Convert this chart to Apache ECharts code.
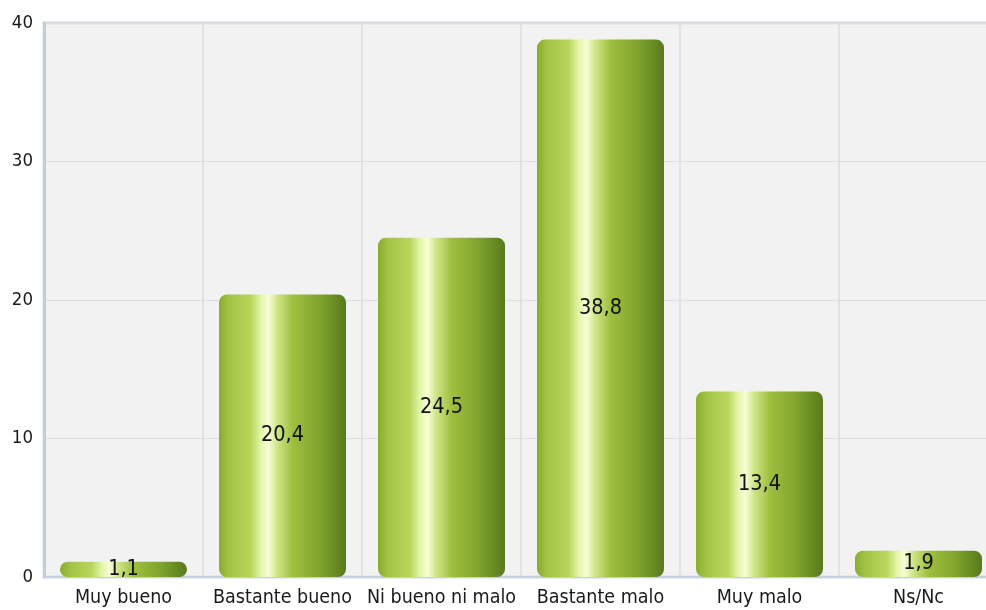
<!DOCTYPE html>
<html><head><meta charset="utf-8">
<script src="https://cdn.jsdelivr.net/npm/echarts@6/dist/echarts.min.js"></script>
<style>html,body{margin:0;padding:0;background:#fff}#c{width:986px;height:610px}</style>
</head><body><div id="c"></div>
<script>
const categories = ['Muy bueno','Bastante bueno','Ni bueno ni malo','Bastante malo','Muy malo','Ns/Nc'];
const values = [1.1, 20.4, 24.5, 38.8, 13.4, 1.9];
const yTicks = [0, 10, 20, 30, 40];

const FONT = '"DejaVu Sans Condensed", "DejaVu Sans", sans-serif';
const chart = echarts.init(document.getElementById('c'));
const barGrad = new echarts.graphic.LinearGradient(0,0,1,0,[
  {offset:0, color:'#8aab30'},
  {offset:0.08, color:'#a3c345'},
  {offset:0.25, color:'#b9d65c'},
  {offset:0.33, color:'#e4f5a8'},
  {offset:0.39, color:'#f6fdd6'},
  {offset:0.46, color:'#cfe487'},
  {offset:0.58, color:'#9fbf3e'},
  {offset:0.8, color:'#7ea22d'},
  {offset:1, color:'#577a1d'}
]);
chart.setOption({
  backgroundColor:'#ffffff',
  animation:false,
  grid:{left:44, width:954, top:23, bottom:33, outerBoundsMode:'none', containLabel:false,
    show:true, backgroundColor:'#f2f2f2', borderColor:'#d8dbe2', borderWidth:3},
  xAxis:{
    type:'category', data:categories,
    axisLine:{show:true, lineStyle:{color:'#c7d0dc', width:2}},
    axisTick:{show:false},
    axisLabel:{color:'#1a1a1a', fontFamily:FONT, fontSize:19.5, margin:11, interval:0},
    splitLine:{show:true, lineStyle:{color:'#dcdcdc', width:1.5}}
  },
  yAxis:{
    type:'value', min:0, max:40, interval:10,
    axisLine:{show:true, lineStyle:{color:'#c5cedb', width:3}},
    axisTick:{show:false},
    axisLabel:{color:'#1a1a1a', fontFamily:FONT, fontSize:18.5, margin:11,
      formatter:function(v){return yTicks.indexOf(v)>=0 ? String(v) : '';}},
    splitLine:{show:true, lineStyle:{color:'#dedede', width:1}}
  },
  series:[{
    type:'bar', data:values, barWidth:127,
    itemStyle:{color:barGrad, borderRadius:8},
    label:{show:true, position:'inside', color:'#111', fontFamily:FONT, fontSize:21.5,
      formatter:function(p){return String(p.value).replace('.',',');}}
  }]
});
</script></body></html>
